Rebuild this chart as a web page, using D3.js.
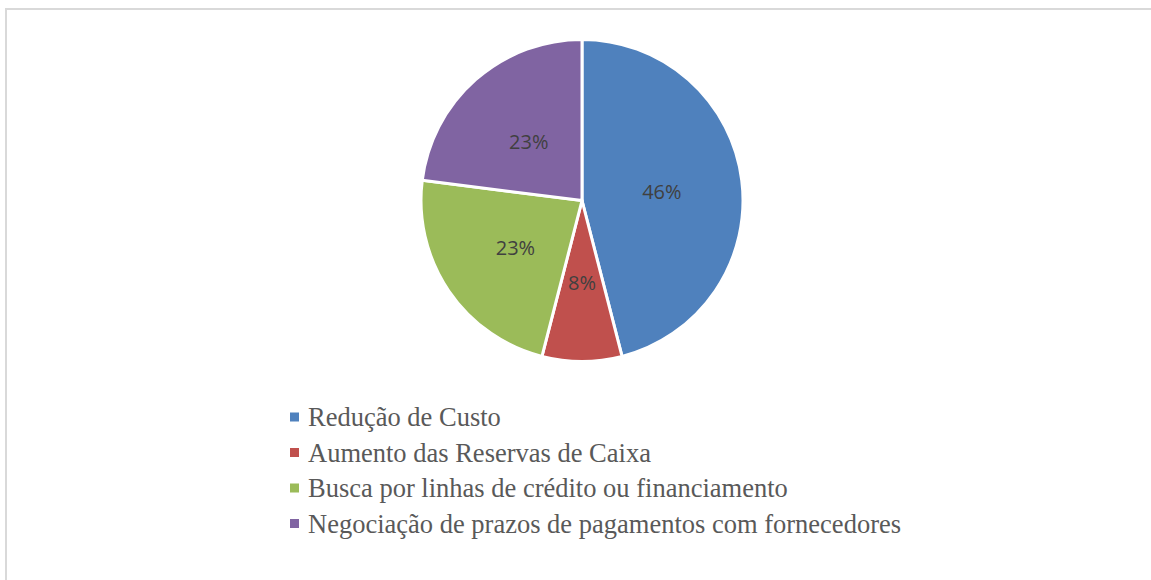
<!DOCTYPE html>
<html>
<head>
<meta charset="utf-8">
<script src="https://cdn.jsdelivr.net/npm/d3@7"></script>
<style>
  body { margin: 0; background: #fff; }
</style>
</head>
<body>
<script>
const width = 1151;
const height = 580;

// data
const categories = [
    "Redução de Custo",
    "Aumento das Reservas de Caixa",
    "Busca por linhas de crédito ou financiamento",
    "Negociação de prazos de pagamentos com fornecedores"
];
const values = [46, 8, 23, 23];
const colors = ["#4f81bd", "#c0504d", "#9bbb59", "#8064a2"];

const svg = d3.select("body").append("svg")
    .attr("width", width)
    .attr("height", height);

// chart frame
svg.append("rect")
    .attr("x", 6)
    .attr("y", 9)
    .attr("width", width + 10)
    .attr("height", height + 10)
    .attr("fill", "none")
    .attr("stroke", "#d9d9d9")
    .attr("stroke-width", 2);

const cx = 582, cy = 200.5, r = 161;

const pie = d3.pie().sort(null);
const arc = d3.arc().innerRadius(0).outerRadius(r);

const g = svg.append("g").attr("transform", `translate(${cx},${cy})`);

g.selectAll("path")
    .data(pie(values))
    .enter()
    .append("path")
    .attr("d", arc)
    .attr("fill", (d, i) => colors[i])
    .attr("stroke", "#fff")
    .attr("stroke-width", 3)
    .attr("stroke-linejoin", "round");

g.selectAll("text")
    .data(pie(values))
    .enter()
    .append("text")
    .attr("transform", d => `translate(${arc.centroid(d)})`)
    .attr("text-anchor", "middle")
    .attr("dy", "0.45em")
    .attr("font-family", "'Open Sans', sans-serif")
    .attr("font-size", 20)
    .attr("fill", "#404040")
    .text(d => d.data + "%");

// legend
const legend = svg.append("g").attr("transform", "translate(290,417)");
const row = legend.selectAll("g")
    .data(categories)
    .enter()
    .append("g")
    .attr("transform", (d, i) => `translate(0,${i * 35.5})`);

row.append("rect")
    .attr("x", 0)
    .attr("y", -4.5)
    .attr("width", 9)
    .attr("height", 9)
    .attr("fill", (d, i) => colors[i]);

row.append("text")
    .attr("x", 18)
    .attr("dy", "0.35em")
    .attr("font-family", "'Liberation Serif', 'Times New Roman', serif")
    .attr("font-size", 26.5)
    .attr("fill", "#595959")
    .text(d => d);
</script>
</body>
</html>
